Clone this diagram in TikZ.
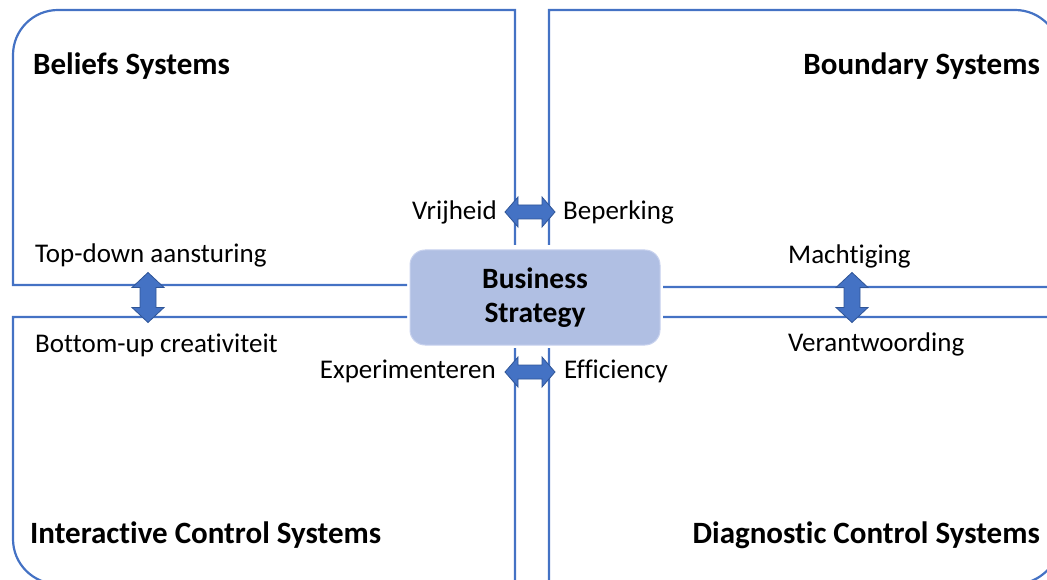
\documentclass[tikz,border=0pt]{standalone}
\usepackage{fontspec}
\setmainfont{Carlito}[Ligatures=NoCommon]
\definecolor{lineblue}{HTML}{4472C4}
\definecolor{arrowedge}{HTML}{2F5597}
\definecolor{boxfill}{HTML}{B0BFE3}
\definecolor{boxedge}{HTML}{C8D2EE}

% block double arrows, centred on a named coordinate
\newcommand{\harrow}[1]{\draw[blockarrow] (#1) ++(-25,0) -- ++(13,-15) -- ++(0,8) -- ++(24,0) -- ++(0,-8) -- ++(13,15) -- ++(-13,15) -- ++(0,-8) -- ++(-24,0) -- ++(0,8) -- cycle;}
\newcommand{\varrow}[1]{\draw[blockarrow] (#1) ++(0,-25) -- ++(-16,15) -- ++(8,0) -- ++(0,20) -- ++(-8,0) -- ++(16,15) -- ++(16,-15) -- ++(-8,0) -- ++(0,-20) -- ++(8,0) -- cycle;}

\begin{document}
\begin{tikzpicture}[x=1pt,y=-1pt]
	\tikzstyle{frame}=[draw=lineblue,line width=2.2pt]
	\tikzstyle{blockarrow}=[fill=lineblue,draw=arrowedge,line width=0.8pt,line join=miter]
	\tikzstyle{title}=[font=\fontsize{31}{34}\selectfont\bfseries,inner sep=0pt]
	\tikzstyle{pole}=[font=\fontsize{27}{30}\selectfont,inner sep=0pt]
	\tikzstyle{strategy}=[rounded corners=15pt,fill=boxfill,draw=boxedge,line width=1pt,minimum width=250pt,minimum height=95pt,align=center,font=\fontsize{29.5}{35}\selectfont\bfseries]
	\useasboundingbox (0,0) rectangle (1047,580);
	\clip (0,0) rectangle (1047,580);

	% the four quadrants
	\draw[frame] (515,245) -- (515,10) -- (58,10) to[out=180,in=90] (13,55) -- (13,285) -- (407,285);
	\draw[frame] (549,245) -- (549,10) -- (1015,10) to[out=0,in=90] (1060,55) -- (1060,287) -- (663,287);
	\draw[frame] (407,317) -- (13,317) -- (13,539) to[out=-90,in=180] (58,584) -- (515,584) -- (515,348);
	\draw[frame] (549,348) -- (549,584) -- (1015,584) to[out=0,in=-90] (1060,539) -- (1060,317) -- (663,317);

	\node[strategy](strat) at (535,297.5) {Business\\[-1pt]Strategy};

	\node[title,anchor=base west](beliefs) at (33,75) {Beliefs Systems};
	\node[title,anchor=base east](boundary) at (1040,75) {Boundary Systems};
	\node[title,anchor=base west](interactive) at (30,543) {Interactive Control Systems};
	\node[title,anchor=base east](diagnostic) at (1040,543) {Diagnostic Control Systems};

	\coordinate (aTop) at (530,212);
	\coordinate (aBot) at (530,372);
	\coordinate (aLeft) at (148,297.5);
	\coordinate (aRight) at (852,297.5);
	\harrow{aTop}
	\harrow{aBot}
	\varrow{aLeft}
	\varrow{aRight}

	\node[pole,anchor=base east](vrij) at (497,220) {Vrijheid};
	\node[pole,anchor=base west](bep) at (563,220) {Beperking};
	\node[pole,anchor=base east](exp) at (496,378) {Experimenteren};
	\node[pole,anchor=base west](eff) at (564,378) {Efficiency};
	\node[pole,anchor=base west](topdown) at (35,262) {Top-down aansturing};
	\node[pole,anchor=base west](bottomup) at (35,352) {Bottom-up creativiteit};
	\node[pole,anchor=base west](macht) at (788,263) {Machtiging};
	\node[pole,anchor=base west](verant) at (788,351) {Verantwoording};
\end{tikzpicture}
\end{document}
